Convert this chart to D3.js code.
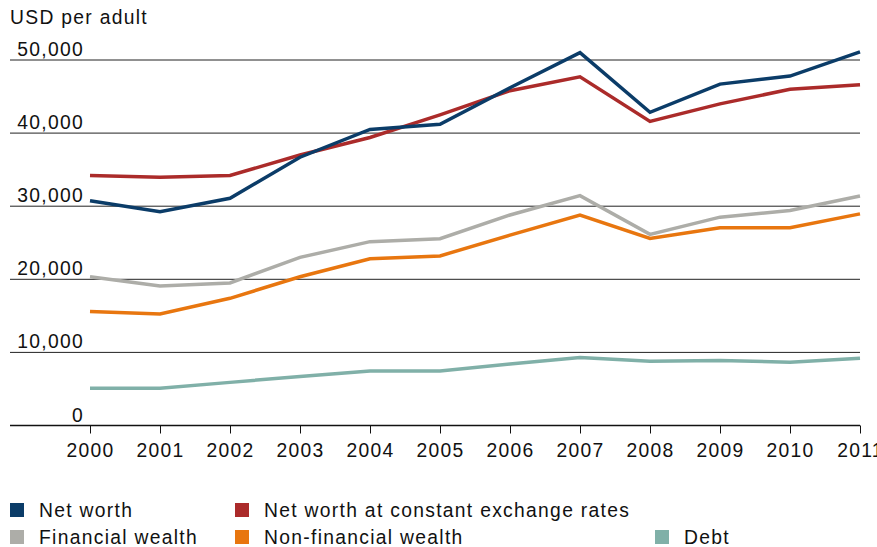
<!DOCTYPE html>
<html>
<head>
	<meta charset="utf-8">
	<title>USD per adult</title>
	<script src="https://d3js.org/d3.v7.min.js"></script>
	<style>
		body { margin: 0; background: #fff; }
		text { font-family: "Liberation Sans", Arial, sans-serif; font-size: 19.3px; fill: #111; letter-spacing: 1.3px; }
	</style>
</head>
<body>
	<div id="chart"></div>

	<script type="text/javascript">

		// data (USD per adult)
		var years = [2000, 2001, 2002, 2003, 2004, 2005, 2006, 2007, 2008, 2009, 2010, 2011];
		var netWorth    = [30750, 29250, 31080, 36700, 40500, 41200, 46200, 51000, 42850, 46700, 47800, 51100];
		var netWorthCer = [34200, 33950, 34200, 37000, 39400, 42500, 45800, 47700, 41600, 44000, 46000, 46600];
		var financial   = [20350, 19100, 19500, 23000, 25150, 25550, 28800, 31450, 26150, 28500, 29400, 31400];
		var nonFinancial = [15600, 15250, 17400, 20350, 22800, 23200, 26050, 28800, 25600, 27050, 27050, 28950];
		var debt        = [5100, 5100, 5900, 6700, 7450, 7450, 8400, 9300, 8800, 8900, 8650, 9200];
		var yTicks = [0, 10000, 20000, 30000, 40000, 50000];

		var series = [
			{name: "Net worth", values: netWorth, color: "#0b3c68"},
			{name: "Net worth at constant exchange rates", values: netWorthCer, color: "#ab2b2a"},
			{name: "Financial wealth", values: financial, color: "#adada8"},
			{name: "Non-financial wealth", values: nonFinancial, color: "#e8760f"},
			{name: "Debt", values: debt, color: "#80b0a8"}
		];

		var width = 877, height = 547;
		var plotLeft = 10, plotRight = 860;

		var svg = d3.select("#chart")
			.append("svg")
				.attr("width", width)
				.attr("height", height);

		var xScale = d3.scaleLinear().domain([2000, 2011]).range([90, 860]);
		var yScale = d3.scaleLinear().domain([0, 50000]).range([425.5, 60]);

		// unit label
		svg.append("text")
			.attr("x", 10)
			.attr("y", 24)
			.text("USD per adult");

		// gridlines + y labels
		svg.append("g")
			.selectAll("line")
			.data(yTicks.filter(function(d) { return d > 0; }))
			.enter().append("line")
				.attr("x1", plotLeft)
				.attr("x2", plotRight)
				.attr("y1", function(d) { return yScale(d); })
				.attr("y2", function(d) { return yScale(d); })
				.style("stroke", "#222")
				.style("stroke-width", 1);

		svg.append("g")
			.selectAll("text")
			.data(yTicks)
			.enter().append("text")
				.attr("x", 84)
				.attr("y", function(d) { return yScale(d) - 4; })
				.style("text-anchor", "end")
				.text(function(d) { return d3.format(",")(d); });

		// x axis
		var xAxis = svg.append("g")
			.attr("transform", "translate(0," + yScale(0) + ")")
			.call(d3.axisBottom(xScale).tickValues(years).tickFormat(d3.format("d")).tickSize(8).tickPadding(10).tickSizeOuter(0));
		xAxis.select(".domain").remove();
		xAxis.selectAll(".tick line").style("stroke", "#111");
		xAxis.selectAll(".tick text")
			.style("font-family", "Liberation Sans, Arial, sans-serif")
			.style("font-size", "19.3px")
			.style("fill", "#111");
		svg.append("line")
			.attr("x1", plotLeft)
			.attr("x2", plotRight)
			.attr("y1", yScale(0))
			.attr("y2", yScale(0))
			.style("stroke", "#111")
			.style("stroke-width", 1.3);

		// lines, drawn bottom series first
		var line = d3.line()
			.x(function(d, i) { return xScale(years[i]); })
			.y(function(d) { return yScale(d); });

		var drawOrder = [4, 2, 3, 1, 0];
		drawOrder.forEach(function(k) {
			svg.append("path")
				.datum(series[k].values)
				.attr("d", line)
				.style("fill", "none")
				.style("stroke", series[k].color)
				.style("stroke-width", 3.5)
				.style("stroke-linejoin", "miter");
		});

		// legend
		var legendPos = [[10, 503], [235, 503], [10, 530], [235, 530], [655, 530]];
		series.forEach(function(s, i) {
			var g = svg.append("g")
				.attr("transform", "translate(" + legendPos[i][0] + "," + legendPos[i][1] + ")");
			g.append("rect")
				.attr("width", 14)
				.attr("height", 14)
				.style("fill", s.color);
			g.append("text")
				.attr("x", 29)
				.attr("y", 14)
				.text(s.name);
		});

	</script>
</body>
</html>
